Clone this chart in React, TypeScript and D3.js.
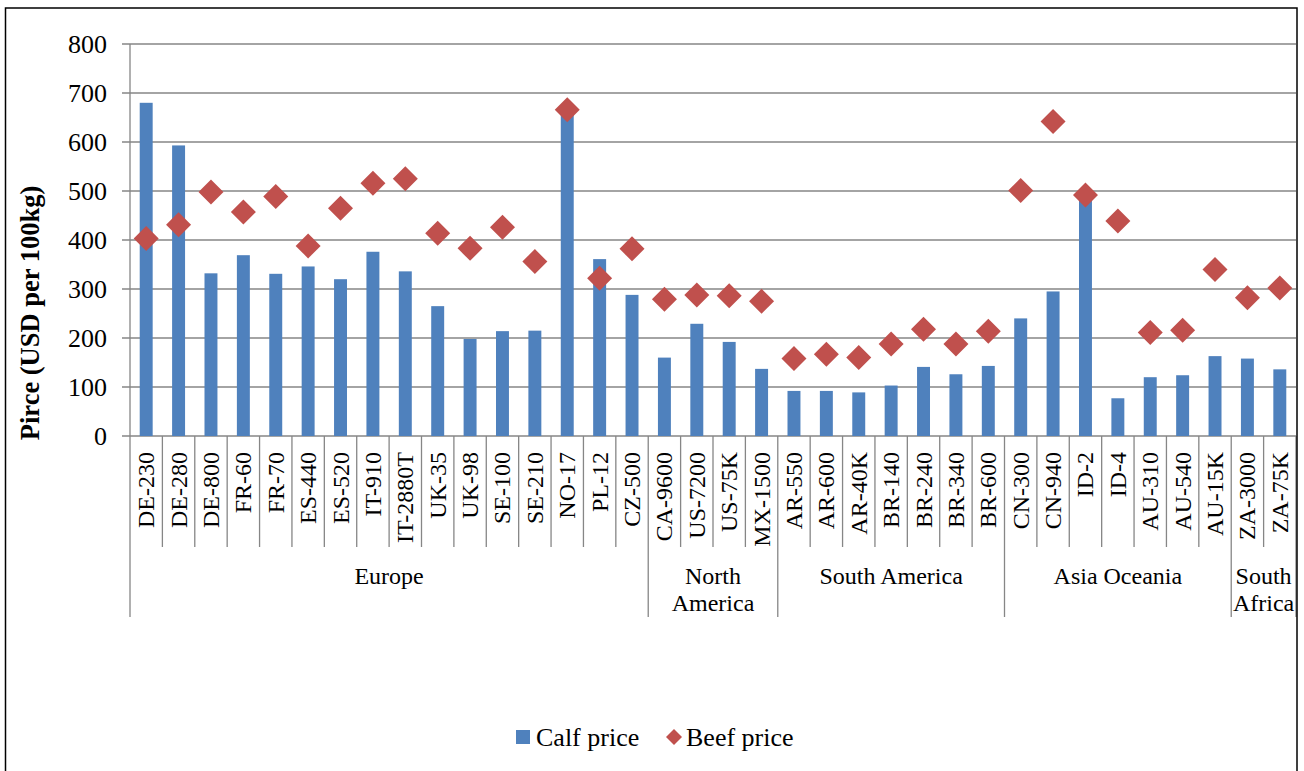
import React from "react";
import * as d3 from "d3";

const categories = [
  "DE-230","DE-280","DE-800","FR-60","FR-70","ES-440","ES-520","IT-910","IT-2880T","UK-35","UK-98","SE-100","SE-210","NO-17","PL-12","CZ-500",
  "CA-9600","US-7200","US-75K","MX-1500",
  "AR-550","AR-600","AR-40K","BR-140","BR-240","BR-340","BR-600",
  "CN-300","CN-940","ID-2","ID-4","AU-310","AU-540","AU-15K",
  "ZA-3000","ZA-75K",
];
const calfPrice = [
  680,593,332,369,331,346,320,376,336,265,198,214,215,660,361,288,
  160,229,192,137,
  92,92,89,103,141,126,143,
  240,295,487,77,120,124,163,
  158,136,
];
const beefPrice = [
  403,431,498,457,489,388,465,516,525,414,383,426,356,666,322,382,
  279,288,286,275,
  158,167,160,188,218,188,214,
  501,642,492,439,211,216,340,
  282,302,
];
const groups = [
  { name: ["Europe"], count: 16 },
  { name: ["North", "America"], count: 4 },
  { name: ["South America"], count: 7 },
  { name: ["Asia Oceania"], count: 7 },
  { name: ["South", "Africa"], count: 2 },
];
const yTicks = [0, 100, 200, 300, 400, 500, 600, 700, 800];
const seriesNames = ["Calf price", "Beef price"];

const W = 1304;
const H = 771;
const plotL = 130;
const plotR = 1296;
const plotT = 44;
const plotB = 436;
const calfColor = "#4F81BD";
const beefColor = "#C0504D";
const gridColor = "#868686";
const font = "'Liberation Serif', 'Times New Roman', serif";

export default function App() {
  const x = d3.scaleBand<string>().domain(categories).range([plotL, plotR]).padding(0);
  const y = d3.scaleLinear().domain([0, 800]).range([plotB, plotT]);
  const bw = x.bandwidth();
  const barW = bw * 0.4;
  const dHalf = 12.5;
  const diamond = (cx: number, cy: number, h: number) =>
    `M${cx},${cy - h}L${cx + h},${cy}L${cx},${cy + h}L${cx - h},${cy}Z`;

  let start = 0;
  const groupSpans = groups.map((g) => {
    const x0 = x(categories[start])!;
    const x1 = x0 + g.count * bw;
    start += g.count;
    return { ...g, x0, x1 };
  });
  const groupBounds = new Set<number>();
  groupSpans.forEach((g) => { groupBounds.add(Math.round(g.x0 * 100)); groupBounds.add(Math.round(g.x1 * 100)); });

  const sepXs = d3.range(categories.length + 1).map((i) => plotL + i * bw);

  return (
    <svg width={W} height={H} style={{ position: "absolute", left: 0, top: 0, background: "#fff" }} fontFamily={font}>
      <rect x={0} y={0} width={W} height={H} fill="#fff" />
      {/* gridlines */}
      {yTicks.map((t) => (
        <line key={"g" + t} x1={plotL - 8} x2={plotR} y1={y(t)} y2={y(t)} stroke={gridColor} strokeWidth={1.3} />
      ))}
      <line x1={plotL} x2={plotL} y1={plotT} y2={plotB} stroke={gridColor} strokeWidth={1.3} />
      {/* category separators */}
      {sepXs.map((sx, i) => {
        const isGroup = groupBounds.has(Math.round(sx * 100));
        return (
          <line key={"s" + i} x1={sx} x2={sx} y1={plotB} y2={isGroup ? 617 : 547} stroke={gridColor} strokeWidth={1.3} />
        );
      })}
      {/* y labels */}
      {yTicks.map((t) => (
        <text key={"yl" + t} x={107} y={y(t)} dy="0.34em" textAnchor="end" fontSize={26} fill="#000">{t}</text>
      ))}
      <text transform={`translate(39,313) rotate(-90)`} textAnchor="middle" fontSize={26.5} fontWeight="bold" fill="#000">
        Pirce (USD per 100kg)
      </text>
      {/* bars */}
      {categories.map((c, i) => (
        <rect key={"b" + c} x={x(c)! + (bw - barW) / 2} y={y(calfPrice[i])} width={barW} height={y(0) - y(calfPrice[i])} fill={calfColor} />
      ))}
      {/* diamonds */}
      {categories.map((c, i) => (
        <path key={"d" + c} d={diamond(x(c)! + bw / 2, y(beefPrice[i]), dHalf)} fill={beefColor} />
      ))}
      {/* category labels */}
      {categories.map((c) => (
        <text key={"cl" + c} transform={`translate(${x(c)! + bw / 2 + 8},452) rotate(-90)`} textAnchor="end" fontSize={24} fill="#000">
          {c}
        </text>
      ))}
      {/* group labels */}
      {groupSpans.map((g) =>
        g.name.map((line, j) => (
          <text key={"gl" + line + j} x={(g.x0 + g.x1) / 2} y={584 + j * 27} textAnchor="middle" fontSize={24} fill="#000">
            {line}
          </text>
        ))
      )}
      {/* legend */}
      <rect x={516} y={730} width={14} height={14} fill={calfColor} />
      <text x={536} y={737} dy="0.34em" fontSize={26} fill="#000">{seriesNames[0]}</text>
      <path d={diamond(674, 737, 8)} fill={beefColor} />
      <text x={686} y={737} dy="0.34em" fontSize={26} fill="#000">{seriesNames[1]}</text>
      {/* outer frame */}
      <rect x={5.5} y={8} width={1291.5} height={780} fill="none" stroke="#000" strokeWidth={1.5} />
    </svg>
  );
}
